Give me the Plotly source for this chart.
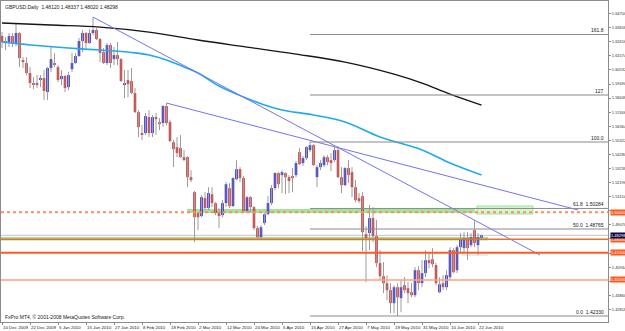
import plotly.graph_objects as go

# ---------------- data ----------------
opens = [1.6304,1.6267,1.6259,1.6304,1.6252,1.6326,1.6126,1.6104,1.6030,1.5956,
         1.5956,1.5985,1.5993,1.5889,1.6067,1.6104,1.6074,1.5985,1.6008,1.5926,
         1.6059,1.6104,1.6156,1.6267,1.6326,1.6252,1.6326,1.6348,1.6281,1.6185,
         1.6104,1.6237,1.6133,1.6163,1.6133,1.5941,1.5978,1.5971,1.5882,1.5741,
         1.5586,1.5586,1.5704,1.5586,1.5704,1.5667,1.5660,1.5786,1.5667,1.5519,
         1.5482,1.5475,1.5408,1.5408,1.5260,1.5149,1.4994,1.4972,1.5105,1.5031,
         1.5134,1.5068,1.5001,1.4979,1.5068,1.5179,1.5046,1.5245,1.5319,1.5253,
         1.5009,1.5112,1.5038,1.4883,1.4816,1.4920,1.4986,1.5068,1.5179,1.5290,
         1.5275,1.5290,1.5260,1.5268,1.5275,1.5445,1.5364,1.5401,1.5460,1.5497,
         1.5260,1.5334,1.5349,1.5408,1.5386,1.5386,1.5460,1.5260,1.5201,1.5327,
         1.5297,1.5186,1.5105,1.5120,1.4838,1.4846,1.4957,1.4824,1.4624,1.4528,
         1.4476,1.4424,1.4328,1.4446,1.4365,1.4461,1.4439,1.4409,1.4387,1.4572,
         1.4476,1.4550,1.4646,1.4653,1.4609,1.4409,1.4476,1.4446,1.4520,1.4720,
         1.4572,1.4742,1.4735,1.4809,1.4757,1.4868,1.4757,1.4812]
highs = [1.6333,1.6296,1.6326,1.6326,1.6400,1.6333,1.6148,1.6148,1.6074,1.6000,
         1.6015,1.6015,1.6052,1.6074,1.6222,1.6178,1.6089,1.6052,1.6015,1.6037,
         1.6178,1.6178,1.6289,1.6348,1.6333,1.6355,1.6444,1.6363,1.6289,1.6215,
         1.6252,1.6252,1.6222,1.6259,1.6141,1.6052,1.6052,1.6067,1.5919,1.5756,
         1.5645,1.5734,1.5756,1.5719,1.5734,1.5697,1.5793,1.5808,1.5682,1.5534,
         1.5556,1.5571,1.5460,1.5416,1.5312,1.5157,1.5001,1.5127,1.5149,1.5186,
         1.5186,1.5075,1.5031,1.5090,1.5223,1.5216,1.5260,1.5386,1.5334,1.5268,
         1.5120,1.5120,1.5046,1.4898,1.4905,1.4994,1.5120,1.5201,1.5297,1.5297,
         1.5312,1.5297,1.5275,1.5327,1.5379,1.5475,1.5416,1.5490,1.5519,1.5504,
         1.5349,1.5386,1.5423,1.5423,1.5438,1.5482,1.5490,1.5334,1.5334,1.5386,
         1.5334,1.5238,1.5142,1.5149,1.4898,1.5053,1.5038,1.4942,1.4720,1.4631,
         1.4535,1.4476,1.4461,1.4476,1.4498,1.4520,1.4483,1.4476,1.4594,1.4602,
         1.4646,1.4720,1.4705,1.4735,1.4624,1.4520,1.4535,1.4572,1.4742,1.4735,
         1.4757,1.4846,1.4853,1.4853,1.4846,1.4942,1.4846,1.4834]
lows = [1.6215,1.6200,1.6222,1.6222,1.6230,1.6074,1.6067,1.6015,1.5919,1.5911,
        1.5919,1.5926,1.5830,1.5830,1.6037,1.6074,1.5963,1.5941,1.5889,1.5904,
        1.6037,1.6096,1.6148,1.6185,1.6215,1.6244,1.6311,1.6274,1.6111,1.6096,
        1.6089,1.6067,1.6089,1.6089,1.5963,1.5845,1.5852,1.5874,1.5734,1.5556,
        1.5534,1.5571,1.5556,1.5556,1.5571,1.5608,1.5630,1.5645,1.5519,1.5334,
        1.5408,1.5401,1.5379,1.5186,1.5223,1.4779,1.4868,1.4964,1.5016,1.5016,
        1.5038,1.4979,1.4883,1.4964,1.5038,1.5031,1.5038,1.5238,1.5223,1.4994,
        1.4994,1.5001,1.4868,1.4801,1.4801,1.4905,1.4979,1.5053,1.5164,1.5179,
        1.5142,1.5134,1.5142,1.5149,1.5260,1.5349,1.5342,1.5386,1.5445,1.5342,
        1.5186,1.5312,1.5334,1.5349,1.5305,1.5371,1.5253,1.5142,1.5194,1.5216,
        1.5112,1.5075,1.5068,1.4713,1.4483,1.4720,1.4779,1.4594,1.4498,1.4402,
        1.4350,1.4254,1.4254,1.4233,1.4261,1.4402,1.4328,1.4372,1.4372,1.4424,
        1.4446,1.4520,1.4587,1.4594,1.4461,1.4402,1.4424,1.4424,1.4498,1.4550,
        1.4550,1.4705,1.4698,1.4646,1.4742,1.4742,1.4683,1.4802]
closes = [1.6259,1.6252,1.6304,1.6252,1.6326,1.6141,1.6111,1.6030,1.5956,1.5948,
          1.5941,1.5993,1.5897,1.6067,1.6133,1.6089,1.5978,1.6008,1.5919,1.6015,
          1.6104,1.6156,1.6267,1.6326,1.6252,1.6326,1.6348,1.6281,1.6178,1.6104,
          1.6237,1.6104,1.6163,1.6133,1.5971,1.5956,1.5948,1.5882,1.5741,1.5630,
          1.5578,1.5712,1.5586,1.5704,1.5689,1.5652,1.5786,1.5660,1.5527,1.5467,
          1.5438,1.5408,1.5386,1.5260,1.5238,1.4964,1.4964,1.5112,1.5031,1.5142,
          1.5068,1.4994,1.4972,1.5068,1.5208,1.5046,1.5253,1.5319,1.5253,1.5009,
          1.5112,1.5038,1.4883,1.4816,1.4890,1.4986,1.5068,1.5179,1.5290,1.5208,
          1.5297,1.5260,1.5231,1.5253,1.5364,1.5356,1.5401,1.5482,1.5497,1.5349,
          1.5334,1.5364,1.5408,1.5371,1.5364,1.5460,1.5260,1.5201,1.5327,1.5275,
          1.5186,1.5090,1.5083,1.4853,1.4809,1.4957,1.4824,1.4624,1.4528,1.4476,
          1.4424,1.4328,1.4446,1.4372,1.4446,1.4424,1.4402,1.4387,1.4572,1.4476,
          1.4550,1.4646,1.4624,1.4616,1.4476,1.4468,1.4446,1.4535,1.4720,1.4557,
          1.4742,1.4801,1.4809,1.4735,1.4816,1.4772,1.4816,1.4830]

date_labels = ["10 Dec 2009", "22 Dec 2009", "5 Jan 2010", "15 Jan 2010", "27 Jan 2010",
               "8 Feb 2010", "18 Feb 2010", "2 Mar 2010", "12 Mar 2010", "24 Mar 2010",
               "5 Apr 2010", "15 Apr 2010", "27 Apr 2010", "7 May 2010", "19 May 2010",
               "31 May 2010", "10 Jun 2010", "22 Jun 2010"]
date_label_bars = [0, 8, 16, 24, 32, 40, 48, 56, 64, 72, 80, 88, 96, 104, 112, 120, 128, 136]

# price scale labels (those hidden behind the line-price boxes are left blank)
price_ticks = [1.64700, 1.63658, 1.62616, 1.61574, 1.60532, 1.59490, 1.58448, 1.57406,
               1.56364, 1.55322, 1.54280, 1.53238, 1.52196, 1.51154, 1.50112, 1.49070,
               1.48028, 1.46986, 1.45944, 1.44902, 1.43860, 1.42818, 1.41776]
price_tick_text = ["1.64700", "1.63658", "1.62616", "1.61574", "1.60532", "1.59490", "1.58448",
                   "1.57406", "1.56364", "1.55322", "1.54280", "1.53238", "1.52196", "1.51154",
                   "", "1.49070", "", "", "1.45944", "", "1.43860", "1.42818", "1.41776"]

# moving averages (sampled points)
ma_slow_bars = [0, 14, 28, 42, 56, 70, 84, 98, 112, 120, 128, 137]
ma_slow_vals = [1.6400, 1.6385, 1.6370, 1.6333, 1.6274, 1.6222, 1.6170, 1.6111,
                1.6022, 1.5956, 1.5874, 1.5793]
ma_fast_bars = [0, 10, 19, 28, 37, 42, 47, 52, 56, 62, 69, 75, 80, 89, 98, 108, 120, 128, 137]
ma_fast_vals = [1.6260, 1.6234, 1.6215, 1.6200, 1.6182, 1.6164, 1.6127, 1.6075, 1.6030,
                1.5934, 1.5853, 1.5794, 1.5757, 1.5720, 1.5668, 1.5557, 1.5461, 1.5365, 1.5276]

# trendlines
tl_x0 = [26, 47]
tl_y0 = [1.6444, 1.5808]
tl_x1 = [153.7, 164.6]
tl_y1 = [1.4684, 1.5017]

# fibonacci
fib_start_bar = 88
fib_prices = [1.42330, 1.48765, 1.50284, 1.55200, 1.58675, 1.63154]
fib_texts = ["0.0  1.42330", "50.0  1.48765", "61.8  1.50284", "100.0", "127", "161.8"]

# support / resistance lines
sr_prices = [1.50000, 1.48000, 1.47000, 1.45000]
sr_texts = ["1.50000", "1.48000", "1.47000", "1.45000"]
bid_price = 1.48298
title_text = "GBPUSD,Daily  1.48120 1.48337 1.48020 1.48298"
copyright_text = "FxPro MT4, \u00a9 2001-2008 MetaQuotes Software Corp."

# ---------------- figure ----------------
X_MIN, X_MAX = -0.2857, 173.14
Y_MIN, Y_MAX = 1.41886, 1.65629
FONT = "Liberation Sans"

bars = list(range(len(opens)))
fig = go.Figure()

# wicks
wx, wy = [], []
for i in bars:
    wx += [i, i, None]
    wy += [highs[i], lows[i], None]
fig.add_trace(go.Scatter(x=wx, y=wy, mode="lines", line=dict(color="#9c9c9c", width=1),
                         hoverinfo="skip", showlegend=False))

# bodies
MIN_H = 0.00035
for up, col in ((True, "#1a1ad2"), (False, "#d42222")):
    xs, bs, hs = [], [], []
    for i in bars:
        if (closes[i] >= opens[i]) == up:
            xs.append(i)
            bs.append(min(opens[i], closes[i]))
            hs.append(max(abs(closes[i] - opens[i]), MIN_H))
    fig.add_trace(go.Bar(x=xs, y=hs, base=bs, width=0.72, marker=dict(color=col, line=dict(width=0)),
                         showlegend=False, hoverinfo="skip"))

# moving averages
fig.add_trace(go.Scatter(x=ma_fast_bars, y=ma_fast_vals, mode="lines",
                         line=dict(color="#1eaaf0", width=1.6, shape="spline"), showlegend=False))
fig.add_trace(go.Scatter(x=ma_slow_bars, y=ma_slow_vals, mode="lines",
                         line=dict(color="#151515", width=1.4, shape="spline"), showlegend=False))

# trendlines
for a, b, c, d in zip(tl_x0, tl_y0, tl_x1, tl_y1):
    fig.add_trace(go.Scatter(x=[a, c], y=[b, d], mode="lines",
                             line=dict(color="#7474f0", width=1), showlegend=False))

shapes = []
# green zones
shapes.append(dict(type="rect", xref="x", yref="y", x0=52.9, x1=135.1, y0=1.4995, y1=1.5025,
                   fillcolor="#9be89b", line=dict(width=0), layer="below"))
shapes.append(dict(type="rect", xref="x", yref="y", x0=135.7, x1=151.7, y0=1.4987, y1=1.5047,
                   fillcolor="#d4f7d0", line=dict(color="#9be89b", width=1), layer="below"))
shapes.append(dict(type="rect", xref="x", yref="y", x0=X_MIN, x1=138.9, y0=1.4792, y1=1.4817,
                   fillcolor="#9be89b", line=dict(width=0), layer="below"))
# light cyan short line
shapes.append(dict(type="line", xref="x", yref="y", x0=131.4, x1=138.9, y0=1.4684, y1=1.4684,
                   line=dict(color="#a8e8f0", width=1), layer="below"))
# bid line
shapes.append(dict(type="line", xref="paper", yref="y", x0=0, x1=1, y0=bid_price, y1=bid_price,
                   line=dict(color="#c4c4cc", width=1), layer="below"))
# S/R lines
sr_styles = [("#ff8a66", 2, "dot"), ("#e8702a", 1.5, "solid"), ("#ff5a22", 2, "solid"), ("#ffa080", 1.5, "solid")]
for p, (c, w, d) in zip(sr_prices, sr_styles):
    shapes.append(dict(type="line", xref="paper", yref="y", x0=0, x1=1, y0=p, y1=p,
                       line=dict(color=c, width=w, dash=d), layer="above"))
# fib lines
for p in fib_prices:
    shapes.append(dict(type="line", xref="x", yref="y", x0=fib_start_bar, x1=X_MAX, y0=p, y1=p,
                       line=dict(color="#8a8a8a", width=1), layer="above"))

ann = []
small = dict(family=FONT, size=5, color="#202020")
dates_font = dict(family=FONT, size=4.4, color="#202020")
ann.append(dict(text=title_text, xref="paper", yref="paper", x=0, y=1, xanchor="left", yanchor="top",
                xshift=2, yshift=-1, showarrow=False, font=small))
ann.append(dict(text=copyright_text, xref="paper", yref="paper", x=0, y=0, xanchor="left", yanchor="bottom",
                xshift=2, yshift=0, showarrow=False, font=small))
for b, t in zip(date_label_bars, date_labels):
    ann.append(dict(text=t, xref="x", yref="paper", x=b, y=0, xanchor="left", yanchor="top",
                    xshift=-1, yshift=-1, showarrow=False, font=dates_font))
for p, t in zip(fib_prices, fib_texts):
    ann.append(dict(text=t, xref="paper", yref="y", x=1, y=p, xanchor="right", yanchor="bottom",
                    xshift=-2, yshift=-1, showarrow=False, font=small))
box_font = dict(family=FONT, size=4, color="#ffffff")
for p, t in zip(sr_prices, sr_texts):
    ann.append(dict(text=t, xref="paper", yref="y", x=1, y=p, xanchor="left", yanchor="middle",
                    xshift=2, showarrow=False, bgcolor="#ff5a1e", borderpad=0, font=box_font))
ann.append(dict(text="1.48298", xref="paper", yref="y", x=1, y=bid_price, xanchor="left", yanchor="middle",
                xshift=2, showarrow=False, bgcolor="#0a0a46", borderpad=0, font=box_font))

fig.update_layout(
    width=625, height=331,
    margin=dict(l=1, r=17, t=1, b=9),
    paper_bgcolor="white", plot_bgcolor="white",
    barmode="overlay", showlegend=False,
    shapes=shapes, annotations=ann,
    xaxis=dict(range=[X_MIN, X_MAX], showgrid=False, zeroline=False, showline=True, mirror=True,
               linecolor="#8c8c8c", linewidth=1, ticks="outside", ticklen=2, tickcolor="#8c8c8c",
               tickvals=date_label_bars, showticklabels=False, fixedrange=True),
    yaxis=dict(range=[Y_MIN, Y_MAX], side="right", showgrid=False, zeroline=False, showline=True,
               mirror=True, linecolor="#8c8c8c", linewidth=1, ticks="outside", ticklen=2,
               tickcolor="#8c8c8c", tickvals=price_ticks, ticktext=price_tick_text,
               tickfont=dict(family=FONT, size=4, color="#303030"), fixedrange=True, automargin=False),
)

fig.write_html("out.html")
